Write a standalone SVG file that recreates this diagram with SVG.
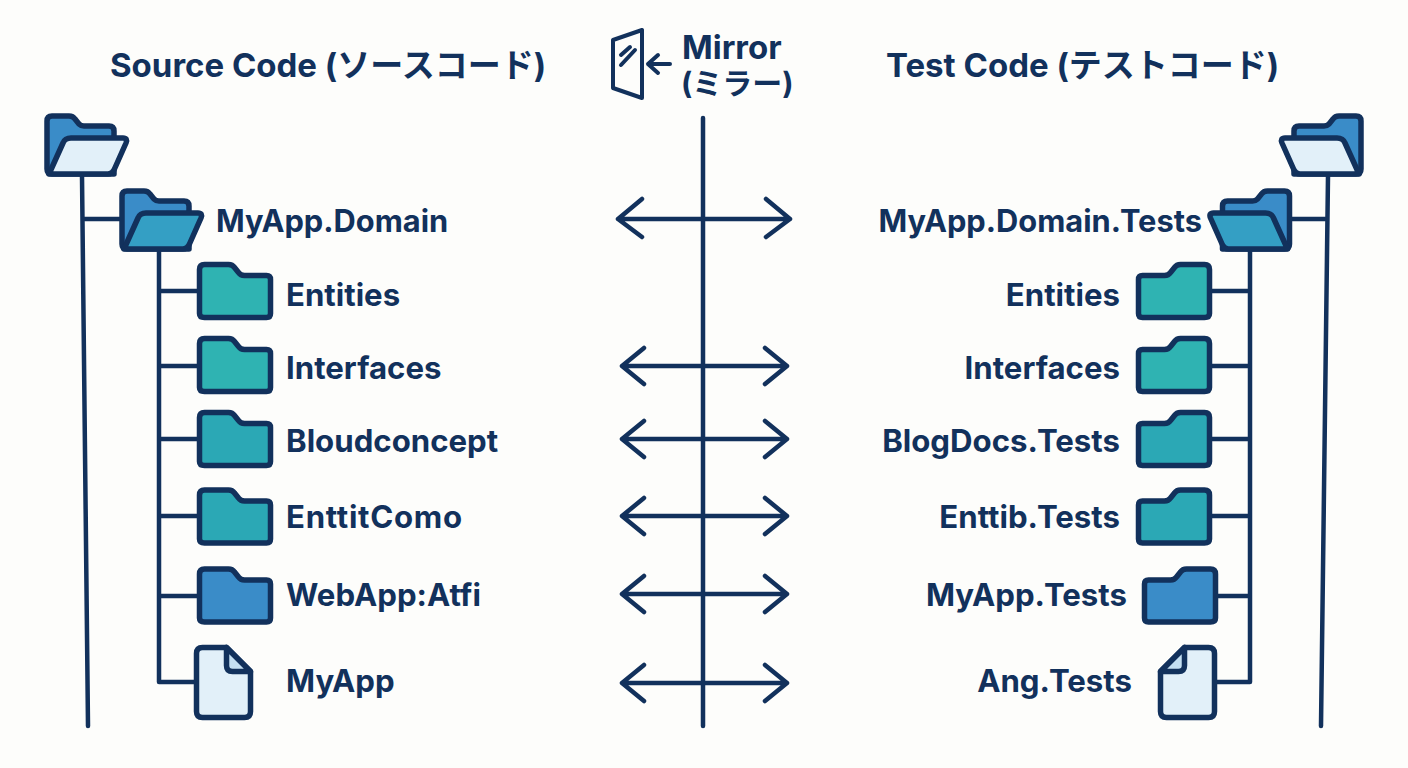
<svg xmlns="http://www.w3.org/2000/svg" width="1408" height="768" viewBox="0 0 1408 768">
<style>
.l{font-family:Inter,"Noto Sans CJK JP",sans-serif;font-weight:700;font-size:31.200px;fill:#12315c}
.d{font-size:30.800px}
.h{font-size:33px}
.j{font-size:30px}
.e{text-anchor:end}
.c{fill:none;stroke:#12315c;stroke-width:4.500;stroke-linecap:round;stroke-linejoin:round}
.o{stroke:#12315c;stroke-width:5.500;stroke-linejoin:round}
.teal{fill:#2fb3b2}.tc{fill:#2ba8b5}.blue{fill:#3a8cc8}.pale{fill:#e2f0f9}.mid{fill:#349fc4}.fold{fill:#c4dff2}
</style>
<defs>
<path id="cf" d="M5 0H29Q33 0 35 3L39 8Q41 11 45 11H67Q71 11 71 15V49Q71 53 67 53H5Q0 53 0 49V5Q0 0 5 0Z"/>
<path id="ob" d="M5 0H22Q26 0 28 3L32 8Q34 10 37 10H62Q67 10 67 15V58H5Q0 58 0 53V5Q0 0 5 0Z"/>
<path id="of" d="M2 58L16 27Q18 22 24 22H76Q81 22 79 27L67 54Q65 58 61 58Z"/>
<path id="doc" d="M6 0H30L54 24V64Q54 70 48 70H6Q0 70 0 64V6Q0 0 6 0Z"/>
<path id="dog" d="M30 0V18Q30 24 36 24H54Z"/>
</defs>
<rect width="1408" height="768" fill="#fdfdfb"/>
<g id="connectors" class="c">
<path d="M82 176L88 726M84 219H120M159 250V682H195M159 291H197M159 366H197M159 439H197M159 516H197M159 596H197"/>
<path d="M1328 176L1321 726M1326 219H1292M1250 250V682H1215M1250 291H1212M1250 366H1212M1250 439H1212M1250 516H1212M1250 596H1218"/>
<path d="M703 118V726"/>
<path d="M618 219H790M642 199L618 219L642 237M766 199L790 219L766 237"/>
<path d="M622 366H787M644 348L622 366L644 384M765 348L787 366L765 384"/>
<path d="M622 439H787M644 421L622 439L644 457M765 421L787 439L765 457"/>
<path d="M622 516H787M644 498L622 516L644 534M765 498L787 516L765 534"/>
<path d="M622 594H787M644 576L622 594L644 612M765 576L787 594L765 612"/>
<path d="M622 683H787M644 665L622 683L644 701M765 665L787 683L765 701"/>
</g>
<g id="mirror-icon" class="c" style="stroke-width:4">
<path d="M613 40L642 30V98L613 88Z"/>
<path d="M621 55L630 47M621 65L635 50"/>
<path d="M670 64H648M658 55L648 64L658 73"/>
</g>
<g id="title-source"><text class="l h" x="110" y="77">Source Code (ソースコード)</text></g>
<g id="title-mirror"><text class="l h" x="682" y="59">Mirror</text><text class="l j" x="681" y="94">(ミラー)</text></g>
<g id="title-test"><text class="l h" x="886" y="77">Test Code (テストコード)</text></g>

<g id="src-root"><use href="#ob" x="47" y="116" class="o blue"/><use href="#of" x="47" y="116" class="o pale"/></g>
<g id="src-domain"><use href="#ob" x="122" y="191" class="o blue"/><use href="#of" x="122" y="191" class="o mid"/><text class="l d" x="216" y="232">MyApp.Domain</text></g>
<g id="src-entities"><use href="#cf" x="199.500" y="264.500" class="o teal"/><text class="l" x="286" y="306">Entities</text></g>
<g id="src-interfaces"><use href="#cf" x="199.500" y="338.500" class="o teal"/><text class="l" x="286" y="379">Interfaces</text></g>
<g id="src-bloud"><use href="#cf" x="199.500" y="412.500" class="o tc"/><text class="l" x="286" y="452">Bloudconcept</text></g>
<g id="src-entit"><use href="#cf" x="199.500" y="490" class="o tc"/><text class="l" x="286" y="528" letter-spacing=".7">EnttitComo</text></g>
<g id="src-webapp"><use href="#cf" x="199.500" y="569" class="o blue"/><text class="l" x="286" y="606">WebApp:Atfi</text></g>
<g id="src-myapp"><use href="#doc" x="196.500" y="647.500" class="o pale"/><use href="#dog" x="196.500" y="647.500" class="o fold"/><text class="l" x="286" y="692">MyApp</text></g>

<g id="test-root"><use href="#ob" transform="translate(1361 116) scale(-1 1)" class="o blue"/><use href="#of" transform="translate(1361 116) scale(-1 1)" class="o pale"/></g>
<g id="test-domain"><use href="#ob" transform="translate(1289.500 191) scale(-1 1)" class="o blue"/><use href="#of" transform="translate(1289.500 191) scale(-1 1)" class="o mid"/><text class="l d e" x="1202" y="232">MyApp.Domain.Tests</text></g>
<g id="test-entities"><use href="#cf" transform="translate(1209.500 264.500) scale(-1 1)" class="o teal"/><text class="l e" x="1120" y="306">Entities</text></g>
<g id="test-interfaces"><use href="#cf" transform="translate(1209.500 338.500) scale(-1 1)" class="o teal"/><text class="l e" x="1120" y="379">Interfaces</text></g>
<g id="test-blogdocs"><use href="#cf" transform="translate(1209.500 412.500) scale(-1 1)" class="o tc"/><text class="l e" x="1120" y="452">BlogDocs.Tests</text></g>
<g id="test-enttib"><use href="#cf" transform="translate(1209.500 490) scale(-1 1)" class="o tc"/><text class="l e" x="1120" y="528">Enttib.Tests</text></g>
<g id="test-myapp"><use href="#cf" transform="translate(1215.500 569) scale(-1 1)" class="o blue"/><text class="l e" x="1127" y="606">MyApp.Tests</text></g>
<g id="test-ang"><use href="#doc" transform="translate(1214.500 647.500) scale(-1 1)" class="o pale"/><use href="#dog" transform="translate(1214.500 647.500) scale(-1 1)" class="o fold"/><text class="l e" x="1132" y="692">Ang.Tests</text></g>
</svg>
